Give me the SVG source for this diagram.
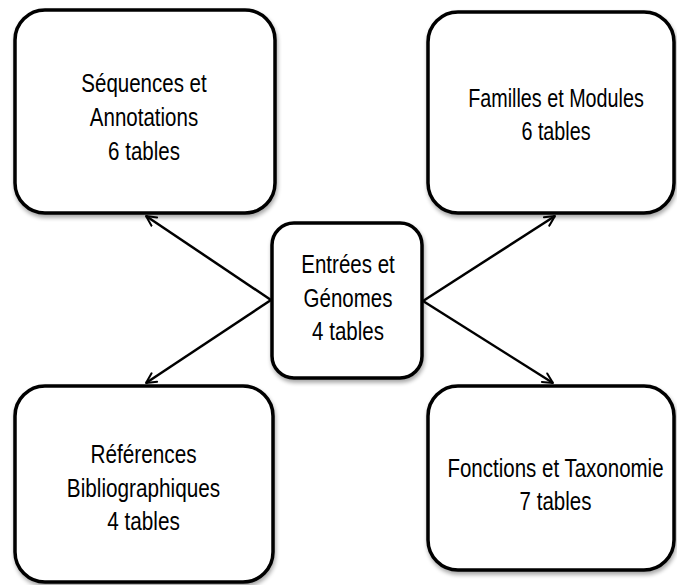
<svg xmlns="http://www.w3.org/2000/svg" width="677" height="585" viewBox="0 0 677 585">
<style>
.box{fill:#fff;stroke:#000;stroke-width:3.5;filter:url(#sh)}
.lbl{font-family:"Liberation Sans",Arial,sans-serif;font-size:25px;fill:#000;text-anchor:middle}
.con{stroke:#000;stroke-width:2.5;fill:none;marker-end:url(#arr)}
</style>
<defs>
<filter id="sh" x="-10%" y="-10%" width="120%" height="120%">
<feGaussianBlur in="SourceAlpha" stdDeviation="2"/>
<feOffset dx="1" dy="3" result="b"/>
<feComponentTransfer><feFuncA type="linear" slope="0.35"/></feComponentTransfer>
<feMerge><feMergeNode/><feMergeNode in="SourceGraphic"/></feMerge>
</filter>
<marker id="arr" viewBox="0 0 10 10" refX="9" refY="5" markerWidth="5" markerHeight="5" orient="auto" markerUnits="strokeWidth">
<path d="M1,1 L9,5 L1,9" fill="none" stroke="#000" stroke-width="1.6" stroke-linecap="round" stroke-linejoin="round"/>
</marker>
</defs>
<g id="connectors">
<line class="con" x1="271" y1="300" x2="146" y2="216"/>
<line class="con" x1="271" y1="300" x2="146" y2="383"/>
<line class="con" x1="423" y1="301" x2="555" y2="216"/>
<line class="con" x1="423" y1="301" x2="553" y2="383"/>
</g>
<g id="sequences">
<rect class="box" x="15" y="10" width="260" height="203" rx="30"/>
<g transform="translate(144 0) scale(0.82 1)">
<text class="lbl" x="0" y="92">Séquences et</text>
<text class="lbl" x="0" y="126">Annotations</text>
<text class="lbl" x="0" y="160">6 tables</text>
</g>
</g>
<g id="familles">
<rect class="box" x="428" y="12" width="246" height="201" rx="30"/>
<g transform="translate(556 0) scale(0.79 1)">
<text class="lbl" x="0" y="107">Familles et Modules</text>
<text class="lbl" x="0" y="140">6 tables</text>
</g>
</g>
<g id="entrees">
<rect class="box" x="272" y="223" width="150" height="155" rx="22"/>
<g transform="translate(348 0) scale(0.82 1)">
<text class="lbl" x="0" y="273">Entrées et</text>
<text class="lbl" x="0" y="307">Génomes</text>
<text class="lbl" x="0" y="340">4 tables</text>
</g>
</g>
<g id="references">
<rect class="box" x="15" y="386" width="258" height="196" rx="30"/>
<g transform="translate(143.5 0) scale(0.83 1)">
<text class="lbl" x="0" y="463">Références</text>
<text class="lbl" x="0" y="497">Bibliographiques</text>
<text class="lbl" x="0" y="530">4 tables</text>
</g>
</g>
<g id="fonctions">
<rect class="box" x="428" y="386" width="246" height="184" rx="30"/>
<g transform="translate(555.5 0) scale(0.82 1)">
<text class="lbl" x="0" y="477">Fonctions et Taxonomie</text>
<text class="lbl" x="0" y="510">7 tables</text>
</g>
</g>
</svg>
